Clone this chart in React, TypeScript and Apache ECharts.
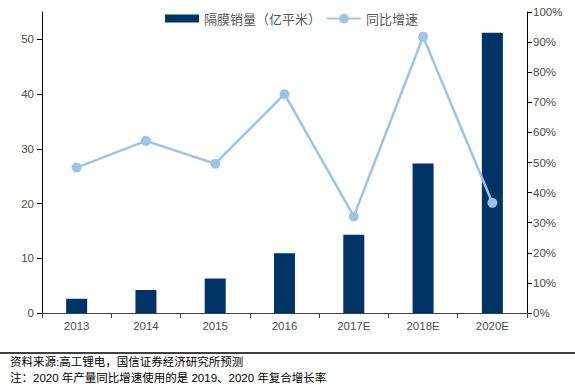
import React, { useEffect, useRef } from "react";
import * as echarts from "echarts";

const categories = ["2013", "2014", "2015", "2016", "2017E", "2018E", "2020E"];
const salesValues = [2.6, 4.2, 6.3, 10.9, 14.3, 27.3, 51.2];
const growthValues = [48.3, 57.2, 49.6, 72.7, 32.1, 91.8, 36.6];
const leftTicks = [0, 10, 20, 30, 40, 50];
const barName = "隔膜销量（亿平米）";
const lineName = "同比增速";
const sourceText = "资料来源:高工锂电，国信证券经济研究所预测";
const noteText = "注：2020 年产量同比增速使用的是 2019、2020 年复合增长率";

const FONT = "'Liberation Sans', 'Noto Sans CJK SC', sans-serif";

export default function App() {
  const ref = useRef<HTMLDivElement>(null);
  useEffect(() => {
    document.body.style.margin = "0";
    if (!ref.current) return;
    const chart = echarts.init(ref.current, null, { renderer: "svg" });
    chart.setOption({
      animation: false,
      textStyle: { fontFamily: FONT },
      grid: { left: 42, right: 48, top: 12, bottom: 77 },
      legend: {
        left: 160,
        top: 7,
        itemWidth: 34,
        itemHeight: 12,
        itemGap: 5,
        textStyle: { fontSize: 13, color: "#595959", fontFamily: "'Noto Sans CJK SC', sans-serif" },
        data: [
          { name: barName, icon: "path://M0,2H34V10H0Z" },
          { name: lineName },
        ],
      },
      xAxis: {
        type: "category",
        data: categories,
        boundaryGap: true,
        axisLine: { lineStyle: { color: "#404040", width: 1 } },
        axisTick: { show: true, length: 5, lineStyle: { color: "#404040" } },
        axisLabel: { color: "#4d4d4d", fontSize: 11.5, margin: 7 },
      },
      yAxis: [
        {
          type: "value",
          min: 0,
          max: 55,
          interval: 5,
          splitLine: { show: false },
          axisLine: { show: true, lineStyle: { color: "#000", width: 1 } },
          axisTick: { show: true, length: 5, customValues: leftTicks, lineStyle: { color: "#000" } },
          axisLabel: { color: "#4d4d4d", fontSize: 11.5, margin: 8, customValues: leftTicks },
        },
        {
          type: "value",
          min: 0,
          max: 100,
          interval: 10,
          splitLine: { show: false },
          axisLine: { show: true, lineStyle: { color: "#000", width: 1 } },
          axisTick: { show: true, length: 5, lineStyle: { color: "#000" } },
          axisLabel: { color: "#4d4d4d", fontSize: 11.5, margin: 6, formatter: "{value}%" },
        },
      ],
      series: [
        {
          name: barName,
          type: "bar",
          data: salesValues,
          barWidth: 21,
          itemStyle: { color: "#003366" },
        },
        {
          name: lineName,
          type: "line",
          yAxisIndex: 1,
          data: growthValues,
          symbol: "circle",
          symbolSize: 10,
          lineStyle: { color: "#9DC3E6", width: 2.5 },
          itemStyle: { color: "#9DC3E6" },
        },
      ],
      graphic: [
        {
          type: "line",
          shape: { x1: 0, y1: 353, x2: 575, y2: 353 },
          style: { stroke: "#000", lineWidth: 1.5 },
        },
        {
          type: "text",
          x: 10,
          y: 362,
          style: {
            text: sourceText,
            fontSize: 11.5,
            fill: "#000",
            fontFamily: FONT,
            verticalAlign: "middle",
          },
        },
        {
          type: "text",
          x: 10,
          y: 378,
          style: {
            text: noteText,
            fontSize: 11.5,
            fill: "#000",
            fontFamily: FONT,
            verticalAlign: "middle",
          },
        },
      ],
    });
    return () => chart.dispose();
  }, []);
  return <div ref={ref} style={{ width: 575, height: 390 }} />;
}
